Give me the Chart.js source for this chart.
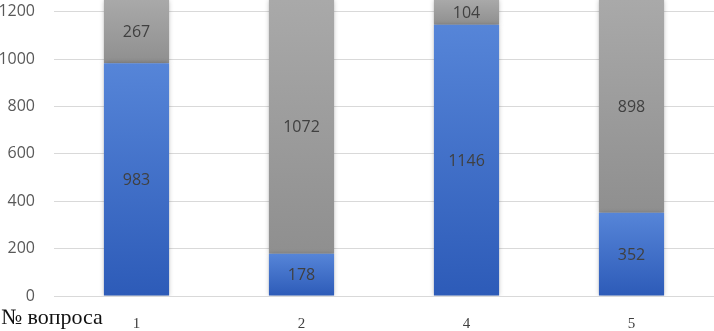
<!DOCTYPE html>
<html>
<head>
<meta charset="utf-8">
<script src="https://cdn.jsdelivr.net/npm/chart.js@4"></script>
<style>
  html, body { margin: 0; padding: 0; background: #fff; }
  #wrap { position: relative; width: 714px; height: 331px; }
  #xtitle {
    position: absolute; left: 1px; top: 304px;
    font: 22px "Liberation Serif", serif; color: #111;
    white-space: nowrap;
  }
</style>
</head>
<body>
<div id="wrap">
  <canvas id="chart"></canvas>
  <div id="xtitle">№ вопроса</div>
</div>
<script>
// номера вопросов и ответы (синие — нижняя часть, серые — верхняя)
const questions = ['1', '2', '4', '5'];
const blueValues = [983, 178, 1146, 352];
const grayValues = [267, 1072, 104, 898];
const yTicks = [0, 200, 400, 600, 800, 1000, 1200];

const BLUE = ['#5685d8', '#2d5bb8'];
const GRAY = ['#a9a9a9', '#8f8f8f'];

// градиент на каждый сегмент, как в Excel
function segmentGradient(ctx, colors, from, to) {
  const chart = ctx.chart;
  const y = chart.scales.y;
  if (!y || !chart.chartArea) return colors[0];
  const top = y.getPixelForValue(to);
  const bottom = y.getPixelForValue(from);
  if (!isFinite(top) || !isFinite(bottom)) return colors[0];
  const g = chart.ctx.createLinearGradient(0, top, 0, bottom);
  g.addColorStop(0, colors[0]);
  g.addColorStop(1, colors[1]);
  return g;
}

const shadowPlugin = {
  id: 'shadow',
  beforeDatasetsDraw(chart) {
    const c = chart.ctx;
    c.save();
    c.shadowColor = 'rgba(0,0,0,0.28)';
    c.shadowBlur = 5;
  },
  afterDatasetsDraw(chart) {
    chart.ctx.restore();
  }
};

const labelsPlugin = {
  id: 'segLabels',
  afterDatasetsDraw(chart) {
    const c = chart.ctx;
    c.save();
    c.font = '16px "Open Sans", sans-serif';
    c.fillStyle = '#404040';
    c.textAlign = 'center';
    c.textBaseline = 'middle';
    chart.data.datasets.forEach((ds, di) => {
      chart.getDatasetMeta(di).data.forEach((bar, i) => {
        const top = Math.max(bar.y, chart.chartArea.top);
        c.fillText(String(ds.data[i]), bar.x, (top + bar.base) / 2 + 1);
      });
    });
    c.restore();
  }
};

new Chart(document.getElementById('chart'), {
  type: 'bar',
  data: {
    labels: questions,
    datasets: [
      {
        data: blueValues,
        backgroundColor: ctx => segmentGradient(ctx, BLUE, 0, blueValues[ctx.dataIndex]),
        borderWidth: 0,
        categoryPercentage: 1,
        barPercentage: 0.395
      },
      {
        data: grayValues,
        backgroundColor: ctx => segmentGradient(ctx, GRAY, blueValues[ctx.dataIndex],
          blueValues[ctx.dataIndex] + grayValues[ctx.dataIndex]),
        borderWidth: 0,
        categoryPercentage: 1,
        barPercentage: 0.395
      }
    ]
  },
  options: {
    responsive: true,
    maintainAspectRatio: false,
    animation: false,
    layout: { padding: 0 },
    plugins: { legend: { display: false }, tooltip: { enabled: false } },
    scales: {
      x: {
        stacked: true,
        grid: { display: false },
        border: { color: '#d9d9d9', width: 1 },
        afterFit: s => { s.height = 35; },
        ticks: {
          padding: 11,
          color: '#404040',
          font: { family: '"Liberation Serif", serif', size: 15 }
        }
      },
      y: {
        stacked: true,
        min: 0,
        max: 1250,
        grid: { color: '#d9d9d9', drawTicks: false },
        border: { display: false },
        afterBuildTicks: s => { s.ticks = yTicks.map(v => ({ value: v })); },
        afterFit: s => { s.width = 54; s.paddingTop = 0; s.paddingBottom = 0; },
        ticks: {
          padding: 19,
          color: '#595959',
          font: { family: '"Open Sans", sans-serif', size: 16 },
          callback: v => String(v)
        }
      }
    }
  },
  plugins: [shadowPlugin, labelsPlugin]
});
</script>
</body>
</html>
